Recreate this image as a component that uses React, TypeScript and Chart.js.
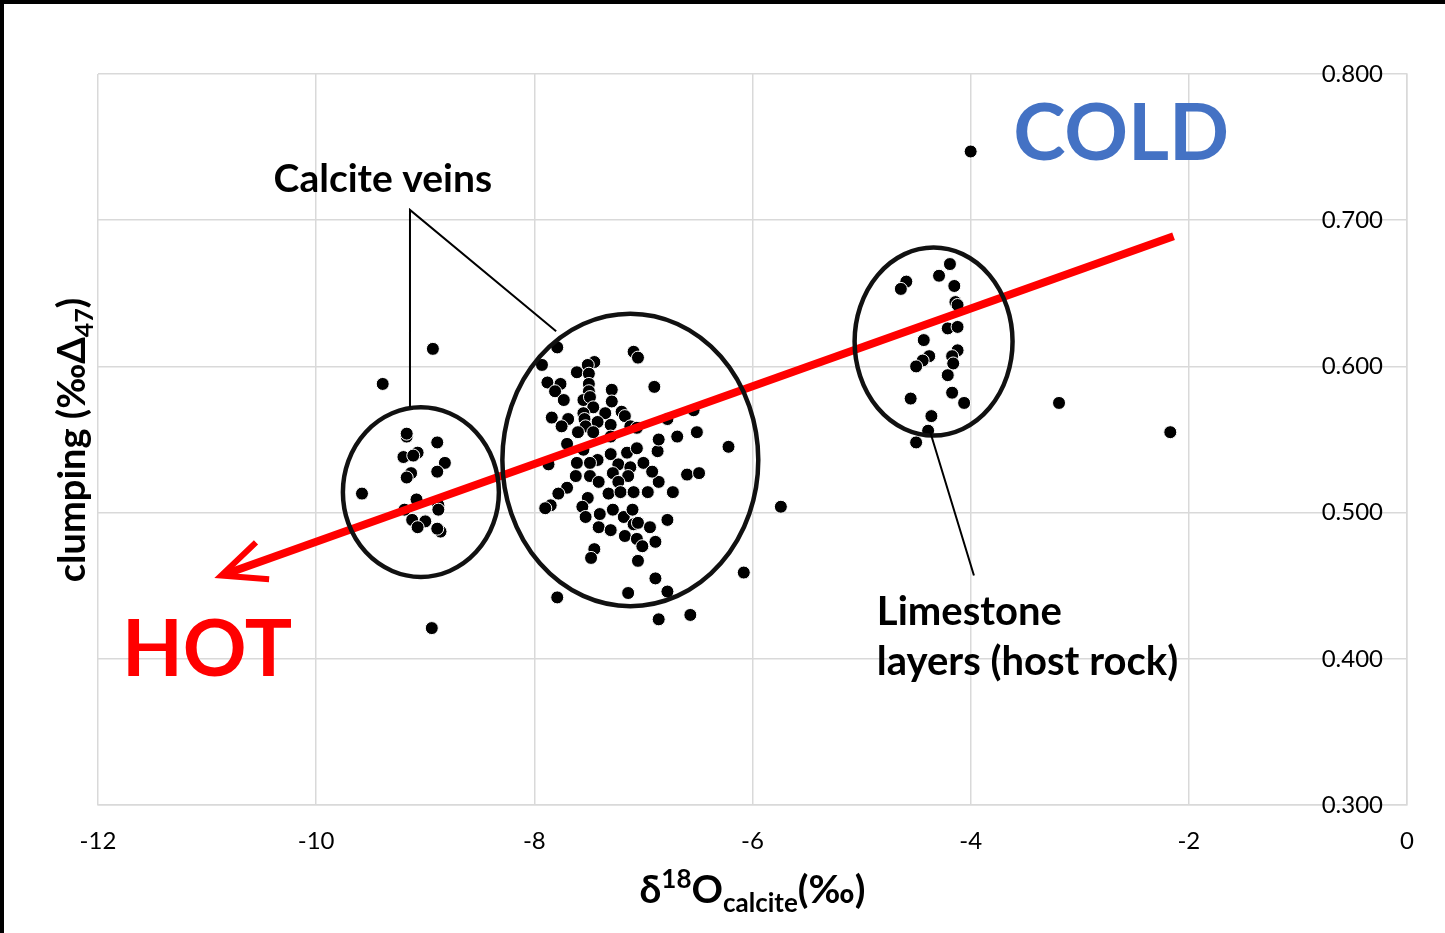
import React, { useEffect, useRef } from "react";
import { Chart, registerables } from "chart.js";

Chart.register(...registerables);

// ---- axis ticks ----
const xTickValues = [-12, -10, -8, -6, -4, -2, 0];
const yTickValues = [0.3, 0.4, 0.5, 0.6, 0.7, 0.8];

// ---- data: calcite veins, small cluster (~ -9 ‰) ----
const smallVeinX = [-9.17, -9.17, -8.89, -9.2, -9.07, -9.11, -9.13, -9.17, -8.82, -8.89, -9.08, -9.19, -8.88, -8.88, -9.12, -9.0, -9.07, -8.86, -8.89];
const smallVeinY = [0.552, 0.554, 0.548, 0.538, 0.541, 0.539, 0.527, 0.524, 0.534, 0.528, 0.509, 0.502, 0.505, 0.502, 0.495, 0.494, 0.49, 0.487, 0.489];

// ---- data: calcite veins, main cluster (~ -7 ‰) ----
const mainVeinX = [
  -7.79, -7.93, -7.09, -7.05, -7.45, -7.51, -7.61, -7.5, -7.88, -7.76,
  -7.81, -7.73, -7.5, -7.5, -7.55, -7.49, -7.29, -7.29, -7.46, -7.55,
  -7.35, -7.2, -7.17, -7.84, -7.69, -7.54, -7.42, -7.75, -7.53, -7.3,
  -7.12, -7.6, -7.46, -7.3, -7.7, -7.55, -7.42, -7.3, -7.61, -7.49,
  -7.15, -7.06, -7.87, -7.23, -7.12, -7.0, -7.62, -7.49, -7.28, -7.14,
  -7.41, -7.7, -7.78, -7.51, -7.32, -7.23, -7.21, -7.09, -6.96, -7.85,
  -7.9, -7.56, -7.53, -7.4, -7.28, -7.18, -7.1, -7.09, -7.05, -7.41,
  -7.3, -7.17, -7.06, -7.45, -7.48, -7.05, -7.01, -6.89, -6.94, -6.78,
  -6.86, -6.92, -6.73, -6.6, -6.49, -6.87, -6.86, -6.69, -6.51, -6.78,
  -6.54, -6.9, -7.06, -6.22, -6.08, -5.74, -6.89, -6.78, -7.14, -7.79,
  -6.86, -6.57,
];
const mainVeinY = [
  0.613, 0.601, 0.61, 0.606, 0.603, 0.601, 0.596, 0.595, 0.589, 0.588,
  0.583, 0.577, 0.588, 0.583, 0.577, 0.579, 0.584, 0.576, 0.572, 0.568,
  0.568, 0.569, 0.566, 0.565, 0.564, 0.564, 0.562, 0.559, 0.559, 0.56,
  0.559, 0.555, 0.555, 0.552, 0.547, 0.543, 0.536, 0.54, 0.534, 0.534,
  0.541, 0.544, 0.533, 0.533, 0.531, 0.534, 0.525, 0.525, 0.527, 0.525,
  0.521, 0.517, 0.513, 0.51, 0.513, 0.521, 0.514, 0.514, 0.514, 0.505,
  0.503, 0.504, 0.497, 0.499, 0.502, 0.497, 0.502, 0.492, 0.493, 0.49,
  0.488, 0.484, 0.482, 0.475, 0.469, 0.467, 0.477, 0.48, 0.49, 0.495,
  0.521, 0.528, 0.514, 0.526, 0.527, 0.542, 0.55, 0.552, 0.555, 0.564,
  0.57, 0.586, 0.558, 0.545, 0.459, 0.504, 0.455, 0.446, 0.445, 0.442,
  0.427, 0.43,
];

// ---- data: limestone layers (host rock) ----
const limestoneX = [-4.19, -4.29, -4.59, -4.64, -4.15, -4.14, -4.12, -4.21, -4.12, -4.43, -4.12, -4.38, -4.44, -4.17, -4.16, -4.5, -4.21, -4.17, -4.06, -4.55, -4.36, -4.39, -4.5];
const limestoneY = [0.67, 0.662, 0.658, 0.653, 0.655, 0.644, 0.642, 0.626, 0.627, 0.618, 0.611, 0.607, 0.604, 0.607, 0.602, 0.6, 0.594, 0.582, 0.575, 0.578, 0.566, 0.556, 0.548];

// ---- data: scattered samples ----
const otherX = [-8.93, -9.39, -9.58, -8.94, -4.0, -3.19, -2.17];
const otherY = [0.612, 0.588, 0.513, 0.421, 0.747, 0.575, 0.555];

// ---- annotations (data units) ----
const ellipses = [
  { cx: -9.04, cy: 0.514, rx: 0.715, ry: 0.058 },
  { cx: -7.12, cy: 0.536, rx: 1.173, ry: 0.1 },
  { cx: -4.34, cy: 0.617, rx: 0.724, ry: 0.0643 },
];
const arrowFrom = { x: -2.14, y: 0.689 };
const arrowTo = { x: -10.87, y: 0.457 };
const veinLeader = { vx: -9.14, vy: 0.707, ax: -9.14, ay: 0.572, bx: -7.8, by: 0.624 };
const limeLeader = { ax: -4.37, ay: 0.555, bx: -3.97, by: 0.457 };

const FONT = "Lato, 'Open Sans', sans-serif";

function pts(xs: number[], ys: number[]) {
  return xs.map((x, i) => ({ x, y: ys[i] }));
}

type Run = { text: string; font: string; dy?: number; w?: number };
function drawRuns(ctx: CanvasRenderingContext2D, runs: Run[], x: number, y: number, align: "left" | "center") {
  let total = 0;
  runs.forEach((r) => {
    ctx.font = r.font;
    r.w = ctx.measureText(r.text).width;
    total += r.w;
  });
  let cx = align === "center" ? x - total / 2 : x;
  ctx.textAlign = "left";
  ctx.textBaseline = "alphabetic";
  runs.forEach((r) => {
    ctx.font = r.font;
    ctx.fillText(r.text, cx, y + (r.dy || 0));
    cx += r.w || 0;
  });
}

const annotPlugin = {
  id: "annot",
  afterDatasetsDraw(chart: any) {
    const ctx: CanvasRenderingContext2D = chart.ctx;
    const xs = chart.scales.x;
    const ys = chart.scales.y;
    const px = (v: number) => xs.getPixelForValue(v);
    const py = (v: number) => ys.getPixelForValue(v);
    ctx.save();

    // red arrow
    const x1 = px(arrowFrom.x), y1 = py(arrowFrom.y);
    const x2 = px(arrowTo.x), y2 = py(arrowTo.y);
    ctx.strokeStyle = "#ff0000";
    ctx.lineWidth = 8;
    ctx.lineCap = "butt";
    ctx.beginPath();
    ctx.moveTo(x1, y1);
    ctx.lineTo(x2 + 3, y2 - 1);
    ctx.stroke();
    const ang = Math.atan2(y1 - y2, x1 - x2);
    const len = 48;
    ctx.lineWidth = 6;
    ctx.lineJoin = "miter";
    ctx.beginPath();
    ctx.moveTo(x2 + len * Math.cos(ang - 0.42), y2 + len * Math.sin(ang - 0.42));
    ctx.lineTo(x2, y2);
    ctx.lineTo(x2 + len * Math.cos(ang + 0.42), y2 + len * Math.sin(ang + 0.42));
    ctx.stroke();

    // ellipses
    ctx.strokeStyle = "#111";
    ctx.lineWidth = 4.5;
    ellipses.forEach((e) => {
      const cx = px(e.cx), cy = py(e.cy);
      const rx = Math.abs(px(e.cx + e.rx) - cx);
      const ry = Math.abs(py(e.cy + e.ry) - cy);
      ctx.beginPath();
      ctx.ellipse(cx, cy, rx, ry, 0, 0, Math.PI * 2);
      ctx.stroke();
    });

    // leader lines
    ctx.lineWidth = 2;
    ctx.strokeStyle = "#000";
    ctx.beginPath();
    ctx.moveTo(px(veinLeader.ax), py(veinLeader.ay));
    ctx.lineTo(px(veinLeader.vx), py(veinLeader.vy));
    ctx.lineTo(px(veinLeader.bx), py(veinLeader.by));
    ctx.moveTo(px(limeLeader.ax), py(limeLeader.ay));
    ctx.lineTo(px(limeLeader.bx), py(limeLeader.by));
    ctx.stroke();

    // labels
    ctx.fillStyle = "#000";
    drawRuns(ctx, [{ text: "Calcite veins", font: `bold 39px ${FONT}` }], px(-10.39), py(0.719), "left");
    drawRuns(ctx, [{ text: "Limestone", font: `bold 40px ${FONT}` }], px(-4.86), py(0.423), "left");
    drawRuns(ctx, [{ text: "layers (host rock)", font: `bold 40px ${FONT}` }], px(-4.86), py(0.389), "left");
    ctx.fillStyle = "#4472c4";
    drawRuns(ctx, [{ text: "COLD", font: `bold 79px ${FONT}` }], px(-3.61), py(0.741), "left");
    ctx.fillStyle = "#ff0000";
    drawRuns(ctx, [{ text: "HOT", font: `bold 79px ${FONT}` }], px(-11.78), py(0.388), "left");
    ctx.restore();
  },
  afterDraw(chart: any) {
    const ctx: CanvasRenderingContext2D = chart.ctx;
    const area = chart.chartArea;
    ctx.save();
    ctx.fillStyle = "#000";
    // axis titles
    drawRuns(
      ctx,
      [
        { text: "δ", font: `bold 39px ${FONT}` },
        { text: "18", font: `bold 26px ${FONT}`, dy: -15 },
        { text: "O", font: `bold 39px ${FONT}` },
        { text: "calcite", font: `bold 26px ${FONT}`, dy: 9 },
        { text: "(‰)", font: `bold 39px ${FONT}` },
      ],
      (area.left + area.right) / 2,
      903,
      "center"
    );
    ctx.translate(85, 440);
    ctx.rotate(-Math.PI / 2);
    drawRuns(
      ctx,
      [
        { text: "clumping (‰Δ", font: `bold 38px ${FONT}` },
        { text: "47", font: `bold 25px ${FONT}`, dy: 8 },
        { text: ")", font: `bold 38px ${FONT}` },
      ],
      0,
      0,
      "center"
    );
    ctx.restore();
    // frame at top and left
    ctx.save();
    ctx.fillStyle = "#000";
    ctx.fillRect(0, 0, chart.width, 4);
    ctx.fillRect(0, 0, 4, chart.height);
    ctx.restore();
  },
};

export default function App() {
  const ref = useRef<HTMLCanvasElement | null>(null);
  useEffect(() => {
    if (!ref.current) return;
    const pointStyle = {
      backgroundColor: "#000",
      borderColor: "#fff",
      borderWidth: 1,
      pointRadius: 6.5,
      pointHoverRadius: 6.5,
    };
    const chart = new Chart(ref.current, {
      type: "scatter",
      data: {
        datasets: [
          { label: "veins small", data: pts(smallVeinX, smallVeinY), ...pointStyle },
          { label: "veins main", data: pts(mainVeinX, mainVeinY), ...pointStyle },
          { label: "limestone", data: pts(limestoneX, limestoneY), ...pointStyle },
          { label: "other", data: pts(otherX, otherY), ...pointStyle },
        ],
      },
      options: {
        responsive: false,
        animation: false,
        events: [],
        layout: { padding: { left: 98, top: 74, right: 0, bottom: 0 } },
        plugins: { legend: { display: false }, tooltip: { enabled: false } },
        scales: {
          x: {
            type: "linear",
            position: "bottom",
            min: -12,
            max: 0,
            afterBuildTicks: (s: any) => {
              s.ticks = xTickValues.map((v) => ({ value: v }));
            },
            afterFit: (s: any) => {
              s.height = 128;
            },
            ticks: {
              autoSkip: false,
              maxRotation: 0,
              padding: 22,
              color: "#000",
              font: { family: FONT, size: 24 },
              callback: (v: any) => String(v),
            },
            grid: { color: "#d9d9d9", lineWidth: 1.5, drawTicks: false },
            border: { display: true, color: "#d9d9d9", width: 1.5 },
          },
          y: {
            type: "linear",
            position: "right",
            min: 0.3,
            max: 0.8,
            afterBuildTicks: (s: any) => {
              s.ticks = yTickValues.map((v) => ({ value: v }));
            },
            afterFit: (s: any) => {
              s.width = 38;
            },
            ticks: {
              mirror: true,
              padding: -24,
              color: "#000",
              font: { family: FONT, size: 24 },
              callback: (v: any) => Number(v).toFixed(3),
            },
            grid: { color: "#d9d9d9", lineWidth: 1.5, drawTicks: false },
            border: { display: true, color: "#d9d9d9", width: 1.5 },
          },
        },
      },
      plugins: [annotPlugin],
    });
    return () => chart.destroy();
  }, []);
  return (
    <div style={{ position: "fixed", left: 0, top: 0, width: 1445, height: 933, background: "#fff" }}>
      <canvas ref={ref} width={1445} height={933} style={{ display: "block", width: 1445, height: 933 }} />
    </div>
  );
}
